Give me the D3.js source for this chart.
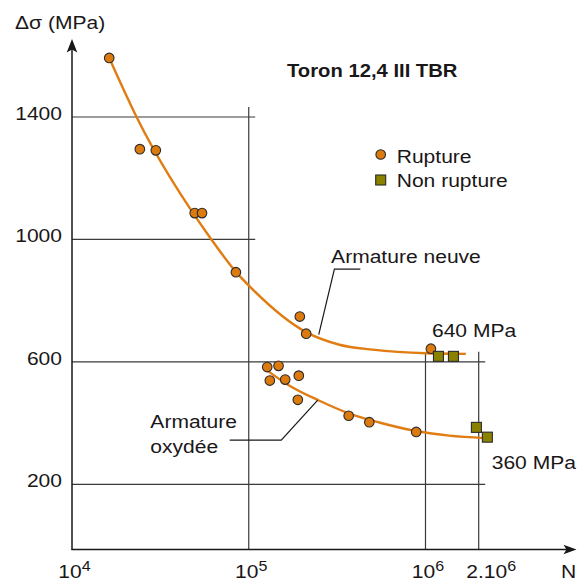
<!DOCTYPE html>
<html>
<head>
<meta charset="utf-8">
<script src="https://cdn.jsdelivr.net/npm/d3@7"></script>
<style>
  html, body { margin: 0; padding: 0; background: #fff; }
  svg { display: block; }
</style>
</head>
<body>
<svg id="chart" width="581" height="582"></svg>
<script>
// Fatigue (S-N) results for the strand "Toron 12,4 III TBR"
// N = number of cycles (log scale), Δσ = stress range in MPa

const xTicks = [1e4, 1e5, 1e6, 2e6];
const xTickBase = ["10", "10", "10", "2.10"];
const xTickExp = ["4", "5", "6", "6"];
const yTicks = [200, 600, 1000, 1400];

// Broken specimens, new strand
const neuveN = [16240, 24200, 29800, 49460, 54400, 84600, 194500, 211300, 1073000];
const neuveS = [1593, 1295, 1291, 1086, 1086, 893, 748, 692, 643];

// Broken specimens, corroded strand
const oxydeeN = [127200, 147400, 131600, 160800, 191900, 189500, 367600, 481000, 886000];
const oxydeeS = [583, 587, 539, 542, 555, 476, 424, 403, 371];

// Run-outs (no failure)
const runoutN = [1184000, 1439000, 1941000, 2239000];
const runoutS = [618, 618, 386, 354];

// Fitted S-N curves
const curveNeuveN = [16240, 23190, 61460, 84600, 105500, 211300, 325700, 502000, 1005000, 1691000];
const curveNeuveS = [1593, 1400, 1000, 894, 836, 697, 656, 640, 628, 626];
const curveOxydeeN = [122900, 170100, 251100, 371000, 547700, 886000, 1361000, 2173000];
const curveOxydeeS = [578, 522, 473, 431, 402, 374, 359, 351];

// Endurance limits
const limitNeuve = 640;
const limitOxydee = 360;

const FONT = "'Liberation Sans', Arial, Helvetica, sans-serif";
const SX = 1.15;            // slightly widened lettering
const INK = "#1a1718";
const GRID = "#3a3a3a";
const ORANGE = "#dc7a0e";
const CURVE = "#e07c12";
const OLIVE = "#8b8100";

const svg = d3.select("#chart");
svg.append("rect").attr("width", 581).attr("height", 582).attr("fill", "#fff");

const x = d3.scaleLog().domain([1e4, 2e6]).range([72, 478.7]);
const y = d3.scaleLinear().domain([200, 1400]).range([484.3, 117]);
const baseY = 549.5;
const axisX = x(1e4);

function txt(sel, px, py, s, o = {}) {
  return sel.append("text")
    .attr("transform", `translate(${px},${py}) scale(${SX},1)`)
    .attr("font-family", FONT)
    .attr("font-size", o.size || 18.3)
    .attr("font-weight", o.weight || "normal")
    .attr("text-anchor", o.anchor || "start")
    .attr("fill", INK)
    .text(s);
}

// ---- grid: vertical rules and how high each one rises
const vRules = [
  { v: 1e5, top: 1400 },
  { v: 1e6, top: 600 },
  { v: 2e6, top: 600 }
];
const grid = svg.append("g").attr("stroke", GRID).attr("stroke-width", 1.2);
vRules.forEach(r => {
  grid.append("line")
    .attr("x1", x(r.v)).attr("x2", x(r.v))
    .attr("y1", y(r.top) - 10).attr("y2", baseY);
});
yTicks.forEach(t => {
  const reach = d3.max(vRules.filter(r => r.top >= t), r => x(r.v));
  grid.append("line")
    .attr("x1", axisX).attr("x2", reach + 6.5)
    .attr("y1", y(t)).attr("y2", y(t));
});

// ---- axes
const yAxis = d3.axisLeft(y).tickValues(yTicks).tickSize(0).tickFormat(d3.format("d"));
const gy = svg.append("g").attr("transform", `translate(${axisX},0)`).call(yAxis);
gy.select(".domain").remove();
gy.selectAll(".tick text")
  .attr("x", 0).attr("dy", 0)
  .attr("transform", `translate(-10,2.5) scale(${SX},1)`)
  .attr("font-family", FONT).attr("font-size", 18.3).attr("fill", INK);

const xAxis = d3.axisBottom(x).tickValues(xTicks).tickSize(0).tickFormat(() => "");
const gx = svg.append("g").attr("transform", `translate(0,${baseY})`).call(xAxis);
gx.select(".domain").remove();
gx.selectAll(".tick text").each(function (d, i) {
  const t = d3.select(this);
  const shift = xTickBase[i] === "10" ? 2 : 12;
  t.text(null)
    .attr("y", 0).attr("dy", 0)
    .attr("transform", `translate(${shift},28.5) scale(${SX},1)`)
    .attr("font-family", FONT).attr("font-size", 18.3).attr("fill", INK);
  t.append("tspan").text(xTickBase[i]);
  t.append("tspan").attr("dy", -7).attr("font-size", 14).text(xTickExp[i]);
});

const axes = svg.append("g").attr("stroke", INK).attr("stroke-width", 1.5);
axes.append("line").attr("x1", axisX).attr("x2", axisX).attr("y1", baseY + 0.5).attr("y2", 48);
axes.append("line").attr("x1", axisX - 0.5).attr("x2", 568).attr("y1", baseY).attr("y2", baseY);
svg.append("path")
  .attr("d", `M${axisX},39 L${axisX + 5.3},52.5 L${axisX},49.5 L${axisX - 5.3},52.5 Z`)
  .attr("fill", INK);
svg.append("path")
  .attr("d", `M576.5,${baseY} L563.5,${baseY - 4.8} L566.5,${baseY} L563.5,${baseY + 4.8} Z`)
  .attr("fill", INK);

txt(svg, 15, 29, "Δσ (MPa)");
txt(svg, 568.5, 578, "N", { anchor: "middle" });

// ---- fitted curves
const line = d3.line().x(d => x(d[0])).y(d => y(d[1])).curve(d3.curveMonotoneX);
svg.append("path")
  .datum(d3.zip(curveNeuveN, curveNeuveS))
  .attr("d", line).attr("fill", "none").attr("stroke", CURVE).attr("stroke-width", 2.4);
svg.append("path")
  .datum(d3.zip(curveOxydeeN, curveOxydeeS))
  .attr("d", line).attr("fill", "none").attr("stroke", CURVE).attr("stroke-width", 2.4);

// ---- leader lines with their labels
const leaders = svg.append("g").attr("fill", "none").attr("stroke", INK).attr("stroke-width", 1.2);
const leadNeuve = [[427900, 903], [305200, 903], [248900, 689]];
const leadOxydee = [[77970, 344], [152700, 344], [245700, 475]];
const straight = d3.line().x(d => x(d[0])).y(d => y(d[1]));
leaders.append("path").attr("d", straight(leadNeuve));
leaders.append("path").attr("d", straight(leadOxydee));

txt(svg, x(leadNeuve[1][0]) - 3.3, y(leadNeuve[0][1]) - 6, "Armature neuve");
txt(svg, x(leadOxydee[0][0]) - 79.3, y(leadOxydee[0][1]) - 12.4, "Armature");
txt(svg, x(leadOxydee[0][0]) - 79.3, y(leadOxydee[0][1]) + 12.6, "oxydée");

// ---- specimens
const pts = svg.append("g").attr("stroke", "#2b2b2b").attr("stroke-width", 1.1);
pts.selectAll("circle.neuve")
  .data(d3.zip(neuveN, neuveS)).join("circle")
  .attr("class", "neuve")
  .attr("cx", d => x(d[0])).attr("cy", d => y(d[1])).attr("r", 4.8)
  .attr("fill", ORANGE);
pts.selectAll("circle.oxydee")
  .data(d3.zip(oxydeeN, oxydeeS)).join("circle")
  .attr("class", "oxydee")
  .attr("cx", d => x(d[0])).attr("cy", d => y(d[1])).attr("r", 4.8)
  .attr("fill", ORANGE);
pts.selectAll("rect.runout")
  .data(d3.zip(runoutN, runoutS)).join("rect")
  .attr("class", "runout")
  .attr("x", d => x(d[0]) - 5).attr("y", d => y(d[1]) - 5)
  .attr("width", 10).attr("height", 10)
  .attr("fill", OLIVE);

// ---- limit labels
txt(svg, x(1.06e6) + 2, y(limitNeuve) - 12.5, `${limitNeuve} MPa`);
txt(svg, x(2e6) + 13, y(limitOxydee) + 34, `${limitOxydee} MPa`);

// ---- title and legend
txt(svg, 287, 77, "Toron 12,4 III TBR", { weight: "bold", size: 17.6 });
const lg = svg.append("g");
lg.append("circle").attr("cx", 380.7).attr("cy", 154.5).attr("r", 4.8)
  .attr("fill", ORANGE).attr("stroke", "#2b2b2b").attr("stroke-width", 1.1);
txt(lg, 396.7, 162.7, "Rupture");
lg.append("rect").attr("x", 375.7).attr("y", 175).attr("width", 10).attr("height", 10)
  .attr("fill", OLIVE).attr("stroke", "#2b2b2b").attr("stroke-width", 1.1);
txt(lg, 396.7, 187.3, "Non rupture");
</script>
</body>
</html>
